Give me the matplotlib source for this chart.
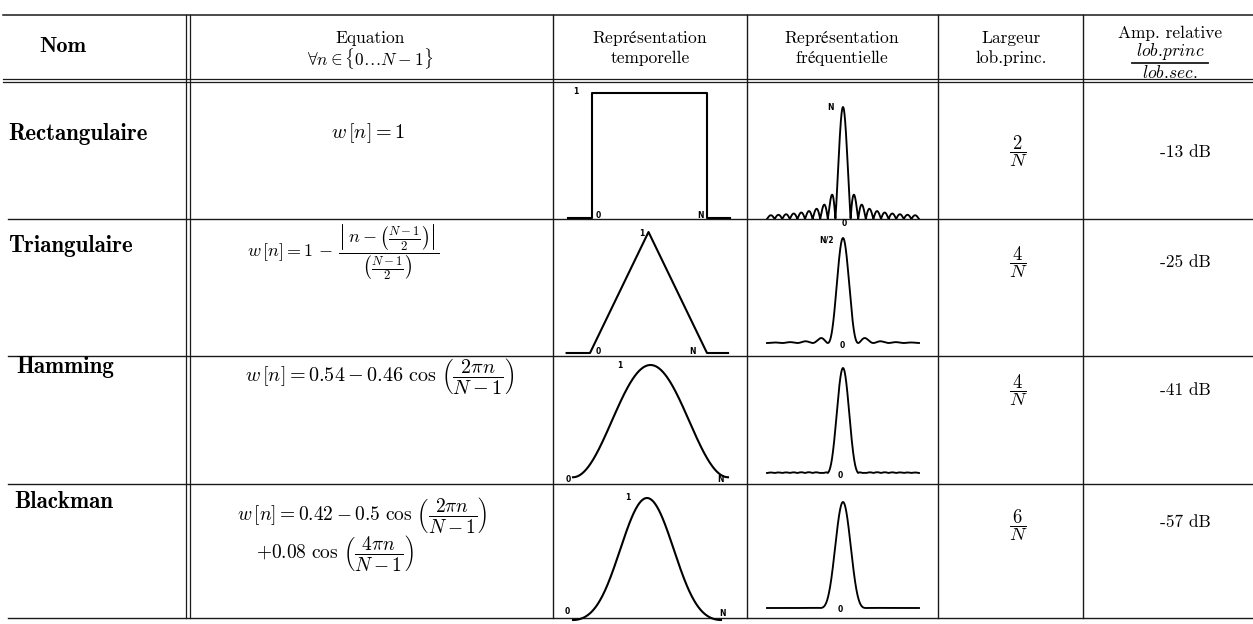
import numpy as np
import matplotlib
matplotlib.use("Agg")
import matplotlib.pyplot as plt

plt.rcParams['mathtext.fontset'] = 'cm'

# ---------------- data ----------------
window_names = ['Rectangulaire', 'Triangulaire', 'Hamming', 'Blackman']
equations = [
    [r'$w\,[n] = 1$'],
    [r'$w\,[n] = 1\,-\,\dfrac{\left|\,n-\left(\frac{N-1}{2}\right)\right|}{\left(\frac{N-1}{2}\right)}$'],
    [r'$w\,[n] = 0.54 - 0.46\ \cos\,\left(\dfrac{2\pi n}{N-1}\right)$'],
    [r'$w\,[n] = 0.42 - 0.5\ \cos\,\left(\dfrac{2\pi n}{N-1}\right)$',
     r'$+0.08\ \cos\,\left(\dfrac{4\pi n}{N-1}\right)$'],
]
mainlobe_num = ['2', '4', '4', '6']          # main lobe width = k / N
sidelobe_db = [-13, -25, -41, -57]           # relative side-lobe amplitude
freq_peak_labels = ['N', 'N/2', '', '']

# time-domain shapes read from the sketches (n in units of N)
rect_t = [-0.21, 0.0, 0.0, 1.0, 1.0, 1.2]
rect_w = [0, 0, 1, 1, 0, 0]
tri_t = [-0.2, 0.0, 0.5, 1.0, 1.18]
tri_w = [0, 0, 1, 0, 0]
hamming_coefs = [0.54, 0.46, 0.0]
blackman_coefs = [0.42, 0.5, 0.08]

# ---------------- figure ----------------
W, H = 1253, 624
fig = plt.figure(figsize=(W / 100, H / 100), dpi=100)
ax = fig.add_axes([0, 0, 1, 1])
ax.set_xlim(0, W)
ax.set_ylim(H, 0)
ax.axis('off')

LC = '#1a1a1a'
col_x = [188, 553, 747, 938, 1083]
top_y, head_y, bot_y = 15, 80, 618
row_y = [80, 219, 356, 484, 618]

ax.plot([3, W], [top_y, top_y], color=LC, lw=1.1)
ax.plot([3, W], [head_y - 1.5, head_y - 1.5], color=LC, lw=0.9)
ax.plot([3, W], [head_y + 1.5, head_y + 1.5], color=LC, lw=0.9)
for y in row_y[1:]:
    ax.plot([8, W], [y, y], color=LC, lw=1.0)
ax.plot([186, 186], [top_y, bot_y], color=LC, lw=0.9)
ax.plot([190, 190], [top_y, bot_y], color=LC, lw=0.9)
for x in col_x[1:]:
    ax.plot([x, x], [top_y, bot_y], color=LC, lw=1.0)

FS = 12.5
RM = dict(ha='center', va='center', fontsize=FS, family='cmr10')
MT = dict(ha='center', va='center', fontsize=FS)
# headers
ax.text(63, 47, 'Nom', ha='center', va='center', fontsize=16, family='cmb10')
ax.text(370, 38, 'Equation', **RM)
ax.text(370, 58, r'$\forall n \in \{0\ldots N-1\}$', **MT)
ax.text(650, 38, r'$\mathrm{Représentation}$', **MT)
ax.text(650, 58, 'temporelle', **RM)
ax.text(842, 38, r'$\mathrm{Représentation}$', **MT)
ax.text(842, 58, r'$\mathrm{fréquentielle}$', **MT)
ax.text(1011, 38, 'Largeur', **RM)
ax.text(1011, 58, 'lob.princ.', **RM)
ax.text(1170, 33, 'Amp. relative', **RM)
ax.text(1170, 51, r'$\mathit{lob.\!princ}$', **MT)
ax.plot([1132, 1208], [63, 63], color=LC, lw=1.3)
ax.text(1170, 73, r'$\mathit{lob.\!sec.}$', **MT)

# row names
name_pos = [(8, 134, 'left'), (8, 246, 'left'), (65, 367, 'center'), (64, 502, 'center')]
for name, (x, y, ha) in zip(window_names, name_pos):
    ax.text(x, y, name, ha=ha, va='center', fontsize=16.5, family='cmb10')

# equations
eq_pos = [[(368, 133)], [(343, 252)], [(380, 376)], [(362, 515), (335, 553)]]
eq_fs = [[14.5], [13.0], [14.5], [14.0, 14.0]]
for eqs, poss, fss in zip(equations, eq_pos, eq_fs):
    for e, (x, y), fs in zip(eqs, poss, fss):
        ax.text(x, y, e, ha='center', va='center', fontsize=fs)

# main lobe width & side lobes
lw_y = [151, 262, 390, 525]
db_y = [152, 262, 390, 522]
for num, y in zip(mainlobe_num, lw_y):
    ax.text(1018, y, r'$\dfrac{' + num + r'}{N}$', ha='center', va='center', fontsize=13.5)
for db, y in zip(sidelobe_db, db_y):
    ax.text(1185, y, f'{db} dB', **RM)


# ---------------- insets ----------------
def inset(box, xa, xb, ya, yb):
    l, t, r, b = box
    a = fig.add_axes([l / W, 1 - b / H, (r - l) / W, (b - t) / H])
    sx = (xb[0] - xa[0]) / (xb[1] - xa[1])
    a.set_xlim(xa[0] + (l - xa[1]) * sx, xa[0] + (r - xa[1]) * sx)
    sy = (yb[0] - ya[0]) / (yb[1] - ya[1])
    a.set_ylim(ya[0] + (b - ya[1]) * sy, ya[0] + (t - ya[1]) * sy)
    a.axis('off')
    a.patch.set_alpha(0)
    return a


def cos_window(coefs, t):
    t = np.asarray(t)
    return coefs[0] - coefs[1] * np.cos(2 * np.pi * t) + coefs[2] * np.cos(4 * np.pi * t)


CW = 1.5
# temporal
a = inset((555, 82, 746, 219), (0, 592), (1, 707), (0, 218), (1, 93))
a.plot(rect_t, rect_w, color='k', lw=CW)
a = inset((555, 220, 746, 356), (0, 590), (1, 707), (0, 353), (1, 232))
a.plot(tri_t, tri_w, color='k', lw=CW)
t = np.linspace(0, 1, 300)
a = inset((555, 357, 746, 484), (0, 573), (1, 728), (0, 487), (1, 365))
a.plot(t, cos_window(hamming_coefs, t), color='k', lw=CW)
a = inset((555, 485, 746, 624), (0, 573), (1, 721), (0, 620), (1, 498))
a.plot(t, cos_window(blackman_coefs, t), color='k', lw=CW, clip_on=False)

# frequency
k = np.linspace(-10, 10, 2000)
rect_spec = np.abs(np.sinc(k))
tri_spec = np.sinc(k / 2) ** 2


def cos_spec(coefs, k):
    s = coefs[0] * np.sinc(k) + coefs[1] / 2 * (np.sinc(k - 1) + np.sinc(k + 1)) \
        + coefs[2] / 2 * (np.sinc(k - 2) + np.sinc(k + 2))
    return np.abs(s) / coefs[0]


specs = [rect_spec, tri_spec, cos_spec(hamming_coefs, k), cos_spec(blackman_coefs, k)]
freq_y = [(219, 107), (343, 238), (473, 368), (608, 502)]
for (y0, y1), (top, bot), sp in zip(freq_y, zip(row_y[:-1], row_y[1:]), specs):
    a = inset((749, top + 2, 937, bot), (0, 843), (1, 850.6), (0, y0), (1, y1))
    a.plot(k, sp, color='k', lw=CW * 0.9)

# small labels inside sketches
SFS = 5.5
lab = dict(fontsize=SFS, fontweight='bold', ha='center', va='center', family='DejaVu Sans')
for (x, y, s) in [(576, 92, '1'), (598, 216, '0'), (700, 216, 'N'),
                  (642, 233, '1'), (598, 351, '0'), (693, 351, 'N'),
                  (620, 365, '1'), (568, 480, '0'), (720, 480, 'N'),
                  (628, 497, '1'), (567, 612, '0'), (723, 614, 'N'),
                  (844, 223, '0'), (842, 346, '0'), (840, 476, '0'), (840, 610, '0')]:
    ax.text(x, y, s, **lab)
for (x, y), s in zip([(830, 108), (827, 240)], freq_peak_labels[:2]):
    ax.text(x, y, s, **lab)

fig.savefig('out.png', dpi=100, facecolor='white')
